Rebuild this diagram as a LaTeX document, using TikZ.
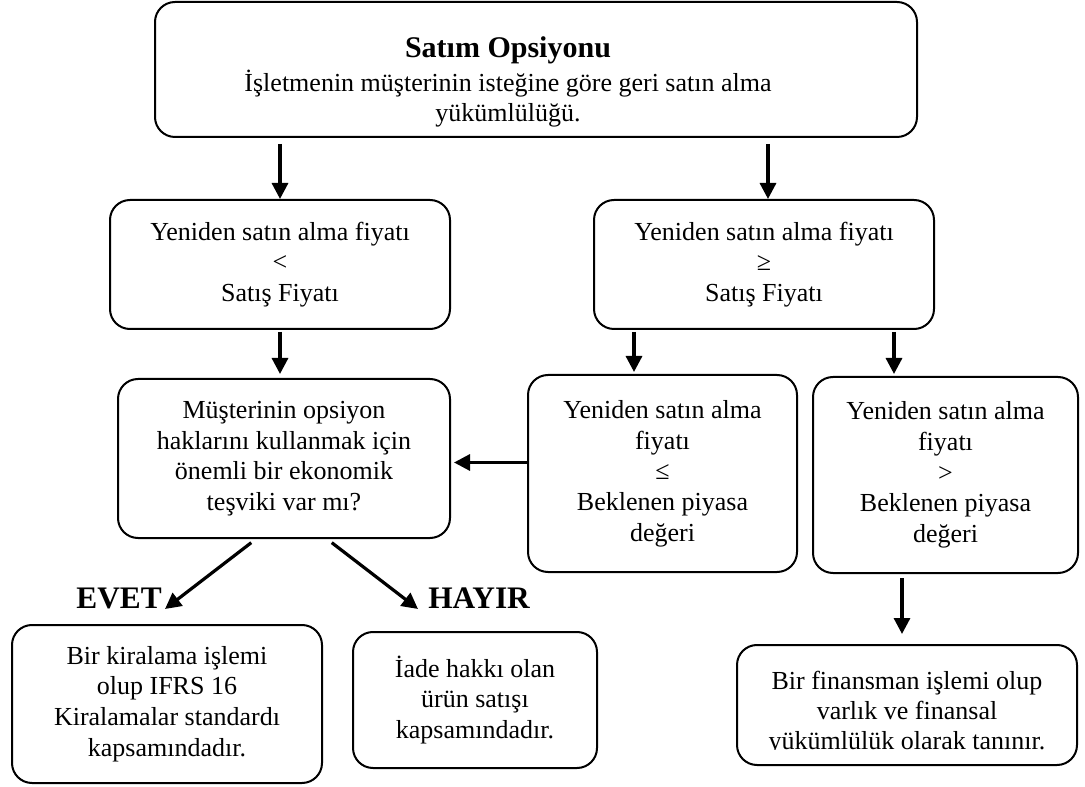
\documentclass[tikz,border=0pt]{standalone}
\usepackage{fontspec}
\setmainfont{Liberation Serif}
\usetikzlibrary{arrows.meta}
\newdimen\pxu \pxu=0.75pt
\newcommand\bodyfont{\fontsize{19.5pt}{23pt}\selectfont}
\newcommand\titlefont{\fontsize{22.5pt}{27pt}\selectfont\bfseries}
\newcommand\lblfont{\fontsize{23.5pt}{27pt}\selectfont\bfseries}
\tikzset{
  box/.style={draw, line width=1.5pt, rounded corners=15pt, inner sep=0pt, align=center, font=\bodyfont},
  txt/.style={inner sep=0pt, align=center, font=\bodyfont},
  arr/.style={line width=2.4pt, -{Triangle[length=12pt,width=12pt]}},
  lbl/.style={inner sep=0pt, font=\lblfont}
}
\begin{document}
\begin{tikzpicture}[x=0.75pt, y=-0.75pt]
\useasboundingbox (0,0) rectangle (1085,787);
% top box
\node[box, minimum width=762\pxu, minimum height=135\pxu] (top) at (536,69.5) {};
\node[txt, font=\titlefont, anchor=base] (t1) at (508,58) {Satım Opsiyonu};
\node[txt, anchor=base] (t2) at (508,92) {İşletmenin müşterinin isteğine göre geri satın alma};
\node[txt, anchor=base] (t3) at (508,122) {yükümlülüğü.};
% boxes
\node[box, minimum width=340\pxu, minimum height=129\pxu] (l1) at (280,264.5)
  {Yeniden satın alma fiyatı\\ <\\ Satış Fiyatı};
\node[box, minimum width=340\pxu, minimum height=129\pxu] (r1) at (764,264.5)
  {Yeniden satın alma fiyatı\\ ≥\\ Satış Fiyatı};
\node[box, minimum width=332\pxu, minimum height=159\pxu] (q) at (284,458.5)
  {Müşterinin opsiyon\\ haklarını kullanmak için\\ önemli bir ekonomik\\ teşviki var mı?};
\node[box, minimum width=269\pxu, minimum height=197\pxu] (r2a) at (662.5,473.5)
  {Yeniden satın alma\\ fiyatı\\ ≤\\ Beklenen piyasa\\ değeri};
\node[box, minimum width=265\pxu, minimum height=196\pxu] (r2b) at (945.5,475)
  {Yeniden satın alma\\ fiyatı\\ >\\ Beklenen piyasa\\ değeri};
\node[box, minimum width=310\pxu, minimum height=158\pxu] (ev) at (167,704)
  {Bir kiralama işlemi\\ olup IFRS 16\\ Kiralamalar standardı\\ kapsamındadır.};
\node[box, minimum width=244\pxu, minimum height=136\pxu] (hy) at (475,700)
  {İade hakkı olan\\ ürün satışı\\ kapsamındadır.};
\node[box, minimum width=340\pxu, minimum height=120\pxu] (fin) at (907,705) {};
\begin{scope}
  \clip (737,645) rectangle (1077,749);
  \node[txt, anchor=base] (f1) at (907,689) {Bir finansman işlemi olup};
  \node[txt, anchor=base] (f2) at (907,719) {varlık ve finansal};
  \node[txt, anchor=base] (f3) at (907,749) {yükümlülük olarak tanınır.};
\end{scope}
% labels
\node[lbl, anchor=south east] (evet) at (162,609) {EVET};
\node[lbl, anchor=south west] (hayir) at (428,609) {HAYIR};
% arrows
\draw[arr, shorten <=6\pxu] (top.south -| l1.north) -- (l1.north);
\draw[arr, shorten <=6\pxu] ([xshift=4\pxu]top.south -| r1.north) -- ([xshift=4\pxu]r1.north);
\draw[arr, shorten <=2\pxu, shorten >=4\pxu] (l1.south) -- (l1.south |- q.north);
\draw[arr, shorten <=2\pxu, shorten >=2\pxu] ([xshift=-130\pxu]r1.south) -- ([xshift=-130\pxu]r1.south |- r2a.north);
\draw[arr, shorten <=2\pxu, shorten >=2\pxu] ([xshift=130\pxu]r1.south) -- ([xshift=130\pxu]r1.south |- r2b.north);
\draw[arr, shorten >=3\pxu] ([yshift=-4\pxu]q.east -| r2a.west) -- ([yshift=-4\pxu]q.east);
\draw[arr, shorten <=6\pxu] ([xshift=-28\pxu]q.south) -- ([xshift=3\pxu]evet.south east);
\draw[arr, shorten <=6\pxu] ([xshift=43\pxu]q.south) -- ([xshift=-10\pxu]hayir.south west);
\draw[arr, shorten <=4\pxu, shorten >=10\pxu] ([xshift=-5\pxu]fin.north |- r2b.south) -- ([xshift=-5\pxu]fin.north);
\end{tikzpicture}
\end{document}
